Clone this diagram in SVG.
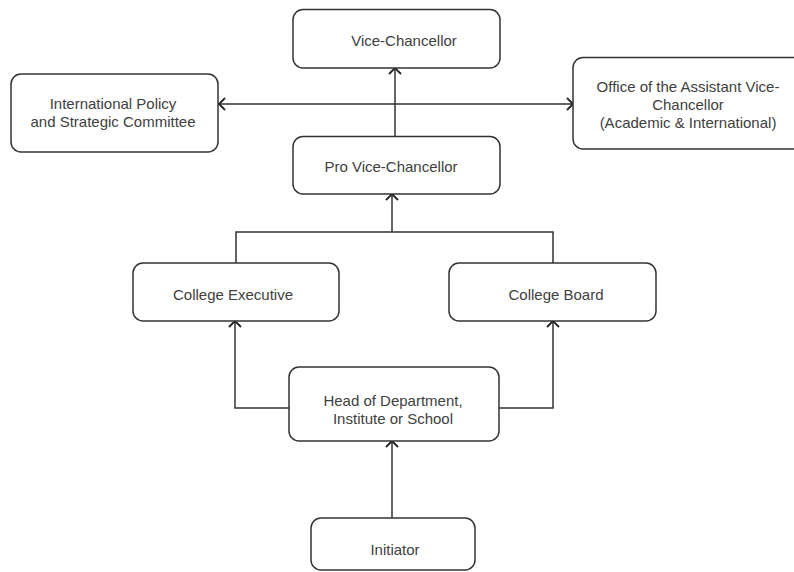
<svg xmlns="http://www.w3.org/2000/svg" width="794" height="572" viewBox="0 0 794 572">
<style>
.box{fill:#fff;stroke:#333;stroke-width:1.5}
.t{font-family:"Liberation Sans",Arial,sans-serif;font-size:15px;fill:#404040;text-anchor:middle}
.c{fill:none;stroke:#333;stroke-width:1.5}
</style>
<defs>
<marker id="ah" markerUnits="userSpaceOnUse" markerWidth="14" markerHeight="14" refX="8" refY="7" orient="auto-start-reverse">
<path d="M2,1 L8,7 L2,13" fill="none" stroke="#222" stroke-width="1.8"/>
</marker>
</defs>
<rect width="794" height="572" fill="#fff"/>
<g id="connectors">
<path class="c" d="M219,104 H573" marker-start="url(#ah)" marker-end="url(#ah)"/>
<path class="c" d="M395,137 V68" marker-end="url(#ah)"/>
<path class="c" d="M236,263 V232 H553 V263"/>
<path class="c" d="M392,232 V194" marker-end="url(#ah)"/>
<path class="c" d="M289,408 H235 V321" marker-end="url(#ah)"/>
<path class="c" d="M499,408 H553 V321" marker-end="url(#ah)"/>
<path class="c" d="M392,518 V441" marker-end="url(#ah)"/>
</g>
<g id="vice-chancellor">
<rect class="box" x="293" y="9.5" width="207" height="58.5" rx="10"/>
<text class="t" x="404" y="46">Vice-Chancellor</text>
</g>
<g id="intl-policy">
<rect class="box" x="11" y="74" width="207" height="78" rx="10"/>
<text class="t" x="113" y="109">International Policy</text>
<text class="t" x="113" y="127">and Strategic Committee</text>
</g>
<g id="office-avc">
<rect class="box" x="573" y="57.5" width="240" height="91.5" rx="10"/>
<text class="t" x="688" y="92">Office of the Assistant Vice-</text>
<text class="t" x="688" y="110">Chancellor</text>
<text class="t" x="688" y="128">(Academic &amp; International)</text>
</g>
<g id="pro-vice-chancellor">
<rect class="box" x="293" y="136.5" width="207" height="57.5" rx="10"/>
<text class="t" x="391" y="172">Pro Vice-Chancellor</text>
</g>
<g id="college-executive">
<rect class="box" x="133" y="263" width="206" height="58" rx="10"/>
<text class="t" x="233" y="300">College Executive</text>
</g>
<g id="college-board">
<rect class="box" x="449" y="263" width="207" height="58" rx="10"/>
<text class="t" x="556" y="300">College Board</text>
</g>
<g id="head-of-department">
<rect class="box" x="289" y="367" width="210" height="74" rx="10"/>
<text class="t" x="393" y="406">Head of Department,</text>
<text class="t" x="393" y="424">Institute or School</text>
</g>
<g id="initiator">
<rect class="box" x="311" y="518" width="164" height="52" rx="10"/>
<text class="t" x="395" y="555">Initiator</text>
</g>
</svg>
